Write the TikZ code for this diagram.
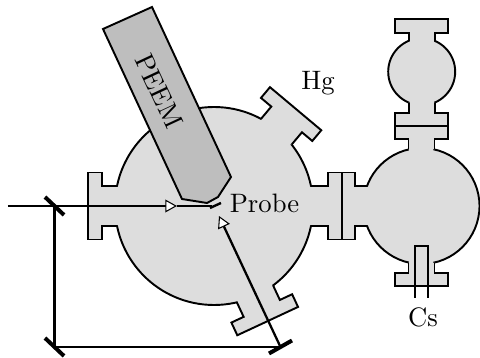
\documentclass[tikz,border=0pt]{standalone}
\usepackage{amsmath}
\usepackage{tikz}
\usetikzlibrary{arrows.meta}
\definecolor{chamberfill}{gray}{0.867}
\definecolor{peemfill}{gray}{0.745}
\tikzset{wall/.style = {draw=black,line width=0.72pt,fill=chamberfill,line join=miter}}
\tikzset{beam/.style = {line width=0.85pt}}
\tikzset{edge/.style = {beam,-{Triangle[open,fill=white,length=4.4pt,width=4.8pt,line width=0.4pt]}}}
\tikzset{mirror/.style = {line width=1.5pt}}
\newcommand{\flange}[7]{
    \begin{scope}[shift={(#1)},rotate=#2]
        \pgfmathsetmacro{\joinx}{sqrt(#3*#3-#6*#6)}
        \fill[chamberfill] (\joinx-4,-#6+1) rectangle (\joinx+4,#6-1);
        \draw[wall] (\joinx,-#6) -- (#5,-#6) -- (#5,-#7) -- (#4,-#7) -- (#4,#7) -- (#5,#7) -- (#5,#6) -- (\joinx,#6);
    \end{scope}
}
\begin{document}
\begin{tikzpicture}[x=0.375pt,y=0.375pt]
            \useasboundingbox (0,0) rectangle (480,358);
            \coordinate (main) at (214,152);
            \coordinate (cs) at (421.5,152);
            \coordinate (top) at (421.7,286.3);
            \draw[wall] (main) circle (99);
            \draw[wall] (cs) circle (58);
            \draw[wall] (top) circle (33.5);
            \flange{main}{180}{99}{126}{112}{20}{33.5}
            \flange{main}{50}{99}{127}{113}{20}{33.5}
            \flange{main}{-65}{99}{127}{113}{20}{33.5}
            \flange{main}{0}{99}{128}{114}{20}{33.5}
            \flange{cs}{180}{58}{79.5}{66.5}{20}{33.5}
            \flange{cs}{90}{58}{80}{67}{13}{26.5}
            \flange{cs}{-90}{58}{80}{67}{13}{26.5}
            \flange{top}{90}{33.5}{52.7}{38.7}{13}{26.5}
            \flange{top}{-90}{33.5}{54.3}{41}{13}{26.5}
            \draw[wall,fill=peemfill] (103,329) -- (152,351) -- (231,181) -- (218,161) -- (207,155) -- (182,159) -- cycle;
            \node[rotate=-65] (peem) at (159,267) {PEEM};
            \node (probe) at (264.5,155) {Probe};
            \node (hg) at (318,275) {Hg};
            \node (cesium) at (423,41) {Cs};
            \draw[beam] (415,60) -- (415,112) -- (428,112) -- (428,60);
            \coordinate (in) at (8,152);
            \coordinate (m1) at (54.5,152);
            \coordinate (m2) at (54.5,11);
            \coordinate (m3) at (280.5,11);
            \coordinate (tip1) at (177,152);
            \coordinate (tip2) at (219,142);
            \coordinate (end1) at (212,152);
            \coordinate (sampleA) at (210,150);
            \coordinate (sampleB) at (221,155);
            \draw[edge] (in) -- (tip1);
            \draw[beam] (tip1) -- (end1);
            \draw[beam] (m1) -- (m2) -- (m3);
            \draw[edge] (m3) -- (tip2);
            \draw[line width=0.9pt] (sampleA) -- (sampleB);
            \draw[mirror] ([shift={(-9.5,9)}]m1) -- ([shift={(9.5,-9)}]m1);
            \draw[mirror] ([shift={(-9.5,9)}]m2) -- ([shift={(9.5,-9)}]m2);
            \draw[mirror] ([shift={(-11.5,-6.5)}]m3) -- ([shift={(11.5,6.5)}]m3);
        \end{tikzpicture}
\end{document}
